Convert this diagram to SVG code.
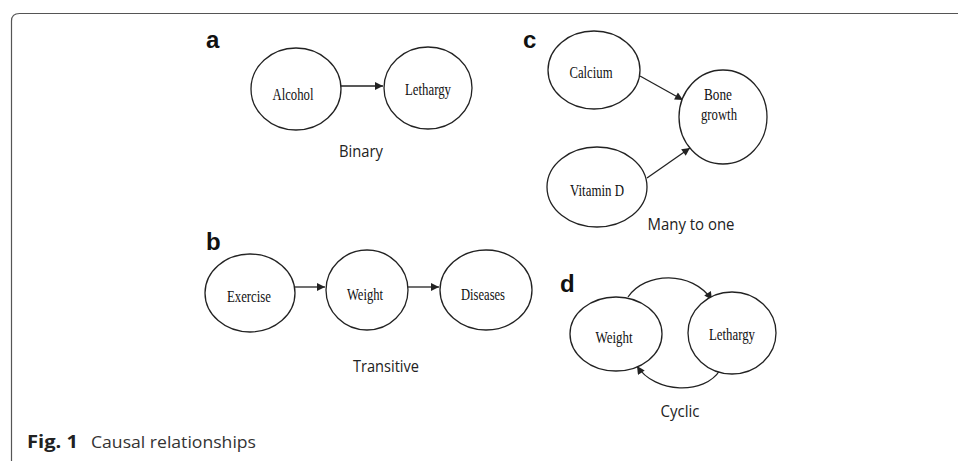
<svg xmlns="http://www.w3.org/2000/svg" width="958" height="461" viewBox="0 0 958 461">
<style>
.frame{fill:none;stroke:#555;stroke-width:1.2}
.node{fill:#fff;stroke:#222;stroke-width:1.3}
.lbl{font-family:"Liberation Serif","Times New Roman",serif;font-size:17.5px;fill:#111;text-anchor:middle}
.cap{font-family:"Open Sans","Noto Sans",sans-serif;font-size:17px;fill:#222;text-anchor:middle}
.panel{font-family:"Liberation Sans",Arial,sans-serif;font-size:24px;font-weight:bold;fill:#111}
.edge{fill:none;stroke:#222;stroke-width:1.3}
.fig{font-family:"Open Sans","Noto Sans",sans-serif;font-size:17px;fill:#333}
</style>
<defs>
<marker id="ah" viewBox="0 0 10 10" refX="10" refY="5" markerWidth="9" markerHeight="8" markerUnits="userSpaceOnUse" orient="auto">
<path d="M0,0 L10,5 L0,10 z" fill="#222"/>
</marker>
</defs>
<rect width="958" height="461" fill="#fff"/>
<path class="frame" d="M11.5 461 V21 Q11.5 13.5 19.5 13.5 H958"/>

<text class="panel" x="206" y="48">a</text>
<text class="panel" x="206" y="250">b</text>
<text class="panel" x="523" y="48">c</text>
<text class="panel" x="560" y="292">d</text>

<g id="connectors">
<line class="edge" x1="341" y1="86" x2="383" y2="86" marker-end="url(#ah)"/>
<line class="edge" x1="295" y1="287" x2="325" y2="287" marker-end="url(#ah)"/>
<line class="edge" x1="407" y1="287" x2="439" y2="287" marker-end="url(#ah)"/>
<line class="edge" x1="640" y1="76" x2="683" y2="100" marker-end="url(#ah)"/>
<line class="edge" x1="647" y1="178" x2="690" y2="148" marker-end="url(#ah)"/>
<path class="edge" d="M628 297 C645 272 692 270 712 300" marker-end="url(#ah)"/>
<path class="edge" d="M720 370 C705 395 655 394 637 366" marker-end="url(#ah)"/>
</g>

<g id="a-alcohol"><ellipse class="node" cx="296" cy="89" rx="45" ry="41"/><text class="lbl" x="293" y="100" textLength="41" lengthAdjust="spacingAndGlyphs">Alcohol</text></g>
<g id="a-lethargy"><ellipse class="node" cx="428" cy="88" rx="44" ry="41"/><text class="lbl" x="428" y="95" textLength="46" lengthAdjust="spacingAndGlyphs">Lethargy</text></g>
<text class="cap" x="361" y="157" textLength="44" lengthAdjust="spacingAndGlyphs">Binary</text>

<g id="b-exercise"><ellipse class="node" cx="250" cy="293" rx="45" ry="39"/><text class="lbl" x="249" y="302" textLength="44" lengthAdjust="spacingAndGlyphs">Exercise</text></g>
<g id="b-weight"><ellipse class="node" cx="367" cy="290" rx="41" ry="40"/><text class="lbl" x="365" y="300" textLength="36" lengthAdjust="spacingAndGlyphs">Weight</text></g>
<g id="b-diseases"><ellipse class="node" cx="486" cy="290" rx="46" ry="40"/><text class="lbl" x="483" y="300" textLength="44" lengthAdjust="spacingAndGlyphs">Diseases</text></g>
<text class="cap" x="386" y="372" textLength="66" lengthAdjust="spacingAndGlyphs">Transitive</text>

<g id="c-calcium"><ellipse class="node" cx="594" cy="70" rx="46" ry="39"/><text class="lbl" x="591" y="78" textLength="43" lengthAdjust="spacingAndGlyphs">Calcium</text></g>
<g id="c-bone"><ellipse class="node" cx="723" cy="117" rx="44" ry="47"/><text class="lbl" x="718" y="100" font-size="16" textLength="28" lengthAdjust="spacingAndGlyphs">Bone</text><text class="lbl" x="719" y="120" font-size="16" textLength="36" lengthAdjust="spacingAndGlyphs">growth</text></g>
<g id="c-vitamind"><ellipse class="node" cx="597" cy="187" rx="50" ry="40"/><text class="lbl" x="597" y="196" textLength="54" lengthAdjust="spacingAndGlyphs">Vitamin D</text></g>
<text class="cap" x="691" y="230" textLength="87" lengthAdjust="spacingAndGlyphs">Many to one</text>

<g id="d-weight"><ellipse class="node" cx="616" cy="334" rx="46" ry="37"/><text class="lbl" x="614" y="343" textLength="37" lengthAdjust="spacingAndGlyphs">Weight</text></g>
<g id="d-lethargy"><ellipse class="node" cx="732" cy="333" rx="44" ry="41"/><text class="lbl" x="732" y="340" textLength="46" lengthAdjust="spacingAndGlyphs">Lethargy</text></g>
<text class="cap" x="680" y="417" textLength="39" lengthAdjust="spacingAndGlyphs">Cyclic</text>

<text class="fig" x="27" y="448"><tspan font-weight="bold" fill="#222" textLength="51" lengthAdjust="spacingAndGlyphs">Fig. 1</tspan><tspan x="91" textLength="165" lengthAdjust="spacingAndGlyphs">Causal relationships</tspan></text>
</svg>
